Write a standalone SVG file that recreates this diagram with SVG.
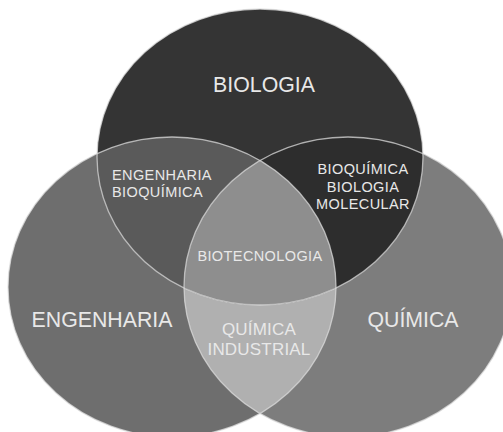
<svg xmlns="http://www.w3.org/2000/svg" width="503" height="432" viewBox="0 0 503 432">
  <defs>
    <ellipse id="eTop" cx="260" cy="157" rx="163" ry="148"/>
    <ellipse id="eLeft" cx="172" cy="287" rx="164" ry="150"/>
    <ellipse id="eRight" cx="348" cy="287" rx="164" ry="150"/>
    <clipPath id="cTop"><use href="#eTop"/></clipPath>
    <clipPath id="cLeft"><use href="#eLeft"/></clipPath>
    <clipPath id="cRight"><use href="#eRight"/></clipPath>
  </defs>
  <style>
    text { font-family: "Liberation Sans", Arial, sans-serif; fill: #e8e8e8; text-anchor: middle; }
    .big { font-size: 21.3px; }
    .small { font-size: 14.5px; letter-spacing: 0.4px; }
    .mid { font-size: 17px; letter-spacing: 0.2px; }
    .left { text-anchor: start; }
    .edge { fill: none; stroke: #dcdcdc; stroke-opacity: 0.75; stroke-width: 1.3; }
  </style>
  <rect width="503" height="432" fill="#ffffff"/>

  <g id="engenharia">
    <use href="#eLeft" fill="#6e6e6e"/>
  </g>
  <g id="quimica">
    <use href="#eRight" fill="#7d7d7d"/>
  </g>
  <g id="quimica-industrial">
    <g clip-path="url(#cLeft)"><use href="#eRight" fill="#b0b0b0"/></g>
  </g>
  <g id="biologia">
    <use href="#eTop" fill="#343434"/>
  </g>
  <g id="engenharia-bioquimica">
    <g clip-path="url(#cTop)"><use href="#eLeft" fill="#5a5a5a"/></g>
  </g>
  <g id="bioquimica-biologia-molecular">
    <g clip-path="url(#cTop)"><use href="#eRight" fill="#2d2d2d"/></g>
  </g>
  <g id="biotecnologia">
    <g clip-path="url(#cTop)"><g clip-path="url(#cLeft)"><use href="#eRight" fill="#8e8e8e"/></g></g>
  </g>

  <g id="outlines">
    <use href="#eTop" class="edge"/>
    <use href="#eLeft" class="edge"/>
    <use href="#eRight" class="edge"/>
  </g>

  <g id="labels">
    <text class="big" x="264" y="92">BIOLOGIA</text>
    <text class="big" x="102" y="327">ENGENHARIA</text>
    <text class="big" x="413" y="327">QUÍMICA</text>
    <text class="small left" x="112" y="180">ENGENHARIA</text>
    <text class="small left" x="112" y="197">BIOQUÍMICA</text>
    <text class="small" x="363" y="174">BIOQUÍMICA</text>
    <text class="small" x="363" y="191.5">BIOLOGIA</text>
    <text class="small" x="363" y="209">MOLECULAR</text>
    <text class="small" x="260" y="261">BIOTECNOLOGIA</text>
    <text class="mid" x="259" y="335">QUÍMICA</text>
    <text class="mid" x="259" y="355">INDUSTRIAL</text>
  </g>
</svg>
